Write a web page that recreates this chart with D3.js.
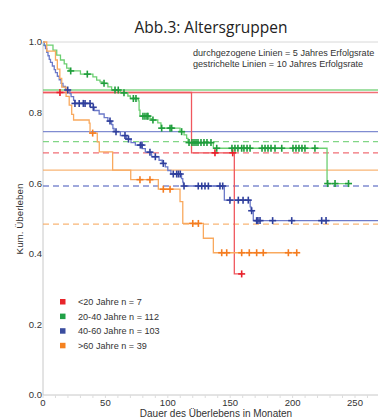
<!DOCTYPE html>
<html>
<head>
<meta charset="utf-8">
<script src="https://cdn.jsdelivr.net/npm/d3@7"></script>
<style>
  body { margin: 0; background: #fff; }
  svg { display: block; }
</style>
</head>
<body>
<div id="chart"></div>
<script>
// Kaplan-Meier steps: [months, survival after step]
const groups = ['<20 Jahre n = 7', '20-40 Jahre n = 112', '40-60 Jahre n = 103', '>60 Jahre n = 39'];

const redSteps = [[0,0.857],[119,0.686],[153.3,0.343]];
const redCens = [13.6, 137.8, 152, 159.2];

const greenSteps = [[0,0.991],[8,0.977],[11,0.963],[14,0.949],[17,0.938],[19,0.926],[21,0.918],[30,0.909],[40,0.901],[43,0.892],[45.7,0.887],[47.5,0.883],[52,0.873],[55,0.864],[62,0.856],[68,0.847],[70,0.840],[76.4,0.833],[77,0.807],[77.7,0.790],[85.7,0.783],[87,0.779],[92,0.771],[94.5,0.756],[109.8,0.746],[113,0.737],[115.1,0.727],[116.2,0.715],[136.5,0.699],[227.6,0.599]];
const greenCens = [22.2, 35.5, 48.9, 57.7, 60.3, 64.9, 72.4, 74.5, 80.1, 81.7, 83.3, 84.1, 88.1, 95.1, 101.8, 103.1, 111.1, 117, 119.4, 121, 122.6, 124.2, 126.6, 129, 131.4, 134.6, 139.2, 151.4, 153.8, 156.2, 159.2, 161, 163.5, 165.9, 175.5, 177.9, 180.3, 182.7, 185.9, 191.3, 200.3, 202.7, 205.1, 207.5, 209.9, 217.9, 228.1, 234, 244.8];

const blueSteps = [[0,1],[1,0.990],[2,0.981],[3,0.971],[4,0.961],[5,0.951],[6,0.942],[7.5,0.932],[9,0.922],[10,0.913],[11.5,0.903],[13,0.893],[14.5,0.883],[16,0.874],[18,0.864],[21.5,0.854],[22.5,0.845],[24.5,0.835],[25.5,0.826],[38,0.815],[41,0.806],[45,0.796],[49,0.786],[52,0.776],[55,0.766],[56,0.755],[57,0.746],[62,0.735],[67,0.725],[70.5,0.715],[74,0.708],[79.5,0.698],[82,0.688],[87,0.675],[93,0.665],[95.5,0.656],[98,0.646],[100,0.636],[102.5,0.626],[111,0.613],[112,0.603],[112.5,0.592],[145.3,0.552],[166,0.533],[166.7,0.522],[168.5,0.494]];
const blueCens = [19.8, 25.6, 29, 32.3, 33.7, 37.7, 40.3, 53.7, 58.5, 65.7, 68.5, 78, 79.3, 85.7, 90, 96.4, 104.4, 107.1, 108.5, 110, 113, 124.4, 127.2, 129.8, 132.5, 141.8, 144, 149.8, 156.5, 160.3, 164.5, 167.2, 171.2, 172.2, 173.9, 184, 199.3, 223.3, 226.8, 280];

const orangeSteps = [[0,1],[3,0.974],[10,0.949],[11.5,0.923],[13.5,0.897],[15,0.872],[18.5,0.846],[21,0.821],[23,0.795],[24.5,0.779],[37,0.770],[37.7,0.742],[43.5,0.717],[45.1,0.689],[55.8,0.637],[70.3,0.610],[92.4,0.583],[109.8,0.548],[112,0.486],[128.5,0.444],[136.5,0.403]];
const orangeCens = [39.8, 77.7, 85.7, 96.4, 101.8, 120, 124.5, 143.2, 147.2, 159.2, 165.3, 171.2, 176.5, 196.6, 203.3];

// 5 and 10 year rates (reference lines)
const fiveYear = [0.857, 0.864, 0.746, 0.637];
const tenYear = [0.686, 0.718, 0.592, 0.484];

const xTicks = [0, 50, 100, 150, 200, 250];
const yTicks = [0, 0.2, 0.4, 0.6, 0.8, 1.0];

const lineColors = ['#f0575e', '#6ccf72', '#6b79c9', '#f9a95e'];
const markColors = ['#e8202a', '#1f9d3c', '#2f3f9c', '#f47c20'];
const legendColors = ['#e8252a', '#21a147', '#3a4d9f', '#f58220'];

const width = 378, height = 420;
const svg = d3.select('#chart').append('svg')
  .attr('width', width).attr('height', height)
  .style('font-family', '"Liberation Sans", Arial, sans-serif');

const x = d3.scaleLinear().domain([0, 250]).range([43, 355]);
const y = d3.scaleLinear().domain([0, 1]).range([395, 42]);

// frame
svg.append('line').attr('x1', x(0)).attr('x2', width).attr('y1', y(1)).attr('y2', y(1))
  .attr('stroke', '#d8d8d8').attr('stroke-width', 1);
svg.append('line').attr('x1', x(0)).attr('x2', width).attr('y1', y(0)).attr('y2', y(0))
  .attr('stroke', '#c8c8c8').attr('stroke-width', 1);
svg.append('line').attr('x1', x(0)).attr('x2', x(0)).attr('y1', y(1)).attr('y2', y(0))
  .attr('stroke', '#c8c8c8').attr('stroke-width', 1);

// minor ticks on x axis
svg.selectAll('.minor').data(d3.range(0, 275, 10))
  .join('line')
    .attr('x1', d => x(d)).attr('x2', d => x(d))
    .attr('y1', y(0)).attr('y2', y(0) + 3)
    .attr('stroke', '#dddddd');

// tick labels
svg.selectAll('.xt').data(xTicks)
  .join('text')
    .attr('x', d => x(d)).attr('y', 406)
    .attr('text-anchor', 'middle')
    .attr('font-size', 9.5).attr('fill', '#333')
    .text(d => d);
svg.selectAll('.yt').data(yTicks)
  .join('text')
    .attr('x', 42).attr('y', d => y(d))
    .attr('dy', '0.35em')
    .attr('text-anchor', 'end')
    .attr('font-size', 9.5).attr('fill', '#333')
    .text(d => d.toFixed(1));

// reference lines
svg.selectAll('.five').data(fiveYear)
  .join('line')
    .attr('x1', x(0)).attr('x2', width)
    .attr('y1', d => y(d)).attr('y2', d => y(d))
    .attr('stroke', (d, i) => lineColors[i]).attr('stroke-width', 1.3).attr('opacity', 0.85);
svg.selectAll('.ten').data(tenYear)
  .join('line')
    .attr('x1', x(0)).attr('x2', width)
    .attr('y1', d => y(d)).attr('y2', d => y(d))
    .attr('stroke', (d, i) => lineColors[i]).attr('stroke-width', 1.3).attr('opacity', 0.85)
    .attr('stroke-dasharray', '6,4');

// curves
const allSteps = [redSteps, greenSteps, blueSteps, orangeSteps];
const allCens = [redCens, greenCens, blueCens, orangeCens];

function survAt(steps, t) {
  let s = steps[0][1];
  for (const p of steps) { if (p[0] <= t) s = p[1]; }
  return s;
}

const line = d3.line().x(d => x(d[0])).y(d => y(d[1])).curve(d3.curveStepAfter);

allSteps.forEach((steps, i) => {
  const end = d3.max(allCens[i]);
  const pts = steps.concat([[end, steps[steps.length - 1][1]]]);
  svg.append('path')
    .attr('d', line(pts))
    .attr('fill', 'none')
    .attr('stroke', lineColors[i])
    .attr('stroke-width', 1.3);
});

allCens.forEach((cens, i) => {
  const g = svg.append('g').attr('stroke', markColors[i]).attr('stroke-width', 1.6);
  cens.forEach(t => {
    const cx = x(t), cy = y(survAt(allSteps[i], t));
    g.append('line').attr('x1', cx - 3.5).attr('x2', cx + 3.5).attr('y1', cy).attr('y2', cy);
    g.append('line').attr('x1', cx).attr('x2', cx).attr('y1', cy - 3.5).attr('y2', cy + 3.5);
  });
});

// legend
const leg = svg.append('g');
groups.forEach((name, i) => {
  const ly = 302 + i * 14.6;
  leg.append('rect').attr('x', 60).attr('y', ly - 3).attr('width', 5.5).attr('height', 5.5)
    .attr('fill', legendColors[i]);
  leg.append('text').attr('x', 78).attr('y', ly).attr('dy', '0.35em')
    .attr('font-size', 9.1).attr('fill', '#333').text(name);
});

// annotation
svg.append('text').attr('x', 193).attr('y', 56)
  .attr('font-size', 9.1).attr('fill', '#333')
  .text('durchgezogene Linien = 5 Jahres Erfolgsrate');
svg.append('text').attr('x', 193).attr('y', 66.5)
  .attr('font-size', 9.1).attr('fill', '#333')
  .text('gestrichelte Linien = 10 Jahres Erfolgsrate');

// title and axis titles
svg.append('text').attr('x', 211).attr('y', 33)
  .attr('text-anchor', 'middle')
  .attr('font-family', '"Open Sans", sans-serif')
  .attr('font-size', 15.5).attr('fill', '#222')
  .text('Abb.3: Altersgruppen');

svg.append('text').attr('x', 216).attr('y', 417)
  .attr('text-anchor', 'middle')
  .attr('font-size', 10).attr('fill', '#333')
  .text('Dauer des Überlebens in Monaten');

svg.append('text')
  .attr('transform', 'translate(23,219) rotate(-90)')
  .attr('text-anchor', 'middle')
  .attr('font-size', 9.8).attr('fill', '#333')
  .text('Kum. Überleben');
</script>
</body>
</html>
